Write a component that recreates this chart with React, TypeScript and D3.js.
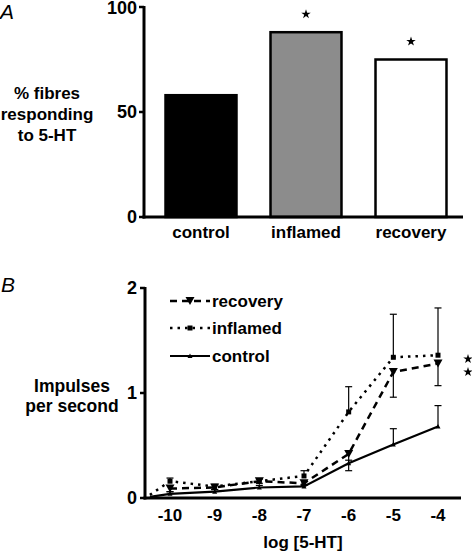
import React from "react";
import * as d3 from "d3";

// Panel A data
const categories = ["control", "inflamed", "recovery"];
const percentResponding = [58, 88, 75];
const barFills = ["#000000", "#8c8c8c", "#ffffff"];
const significantA = [false, true, true];
const yTicksA = [0, 50, 100];

// Panel B data
const logConc = [-10, -9, -8, -7, -6, -5, -4];
const xTicksB = [-10, -9, -8, -7, -6, -5, -4];
const yTicksB = [0, 1, 2];
const controlMean = [0.04, 0.06, 0.1, 0.11, 0.33, 0.51, 0.68];
const controlErr = [0.02, 0.02, 0.02, 0.02, 0.03, 0.15, 0.2];
const inflamedMean = [0.16, 0.11, 0.16, 0.21, 0.82, 1.34, 1.36];
const inflamedErr = [0.03, 0.02, 0.02, 0.05, 0.24, 0.41, 0.45];
const recoveryMean = [0.09, 0.1, 0.16, 0.14, 0.42, 1.2, 1.28];
const recoveryErr = [0.03, 0.02, 0.02, 0.02, 0.16, 0.24, 0.21];
// baseline start of curves near the axis
const startX = -10.45;
const controlStart = 0.01;
const inflamedStart = 0.03;

const FONT = "Arial, 'Liberation Sans', Helvetica, sans-serif";

export default function App() {
  // ---------- Panel A ----------
  const yA = d3.scaleLinear().domain([0, 100]).range([217, 7]);
  const xA = d3
    .scaleBand<string>()
    .domain(categories)
    .range([148.5, 463.5])
    .paddingInner(0.324)
    .paddingOuter(0.162);

  // ---------- Panel B ----------
  const xB = d3.scaleLinear().domain([-10, -4]).range([170, 438]);
  const yB = d3.scaleLinear().domain([0, 2]).range([498, 288]);
  const line = d3
    .line<[number, number]>()
    .x((d) => xB(d[0]))
    .y((d) => yB(d[1]));

  type Series = {
    name: string;
    mean: number[];
    err: number[];
    dir: number;
    dash: string;
    width: number;
    start?: number;
    marker: "down" | "square" | "up";
  };
  const series: Series[] = [
    { name: "control", mean: controlMean, err: controlErr, dir: 1, dash: "", width: 2.2, start: controlStart, marker: "up" },
    { name: "recovery", mean: recoveryMean, err: recoveryErr, dir: -1, dash: "7,5", width: 2.5, marker: "down" },
    { name: "inflamed", mean: inflamedMean, err: inflamedErr, dir: 1, dash: "2.5,5", width: 2.5, start: inflamedStart, marker: "square" },
  ];

  const legendItems = [
    { name: "recovery", y: 301 },
    { name: "inflamed", y: 328 },
    { name: "control", y: 356 },
  ];

  const starPath = d3.symbol(d3.symbolStar, 28)() as string;

  const marker = (m: string, x: number, y: number, key: string) => {
    if (m === "down")
      return <path key={key} d={`M${x - 4.5},${y - 4} L${x + 4.5},${y - 4} L${x},${y + 4} Z`} fill="#000" />;
    if (m === "square") return <rect key={key} x={x - 2.5} y={y - 2.5} width={5} height={5} fill="#000" />;
    return <path key={key} d={`M${x - 2.5},${y + 2} L${x + 2.5},${y + 2} L${x},${y - 2.5} Z`} fill="#000" />;
  };

  return (
    <svg width={472} height={551} style={{ position: "absolute", left: 0, top: 0 }} fontFamily={FONT}>
      <rect width={472} height={551} fill="#fff" />
      {/* Panel A */}
      <text x={0} y={19} fontSize={21} fontStyle="italic">A</text>
      <g fontWeight="bold" fontSize={17} textAnchor="middle">
        <text x={47} y={99}>% fibres</text>
        <text x={47} y={120}>responding</text>
        <text x={47} y={141}>to 5-HT</text>
      </g>
      {categories.map((c, i) => (
        <rect
          key={c}
          x={xA(c)}
          y={yA(percentResponding[i])}
          width={xA.bandwidth()}
          height={yA(0) - yA(percentResponding[i])}
          fill={barFills[i]}
          stroke="#000"
          strokeWidth={2.5}
        />
      ))}
      {categories.map((c, i) =>
        significantA[i] ? (
          <path key={c + "s"} d={starPath} transform={`translate(${(xA(c) as number) + xA.bandwidth() / 2},${yA(percentResponding[i]) - 18})`} fill="#000" />
        ) : null
      )}
      <line x1={144} x2={144} y1={yA(100) - 1} y2={yA(0) + 1.5} stroke="#000" strokeWidth={3} />
      <line x1={142.5} x2={463} y1={yA(0)} y2={yA(0)} stroke="#000" strokeWidth={3} />
      {yTicksA.map((t) => (
        <g key={t}>
          <line x1={139} x2={144} y1={yA(t)} y2={yA(t)} stroke="#000" strokeWidth={2.5} />
          <text x={137} y={Math.max(yA(t) + 6, 14)} fontSize={18} fontWeight="bold" textAnchor="end">{t}</text>
        </g>
      ))}
      {categories.map((c) => (
        <text key={c + "l"} x={(xA(c) as number) + xA.bandwidth() / 2} y={238} fontSize={17} fontWeight="bold" textAnchor="middle">
          {c}
        </text>
      ))}

      {/* Panel B */}
      <text x={1} y={292} fontSize={21} fontStyle="italic">B</text>
      <g fontWeight="bold" fontSize={17.5} textAnchor="middle">
        <text x={72} y={392}>Impulses</text>
        <text x={72} y={412}>per second</text>
      </g>
      {series.map((s) => {
        const pts: [number, number][] = logConc.map((x, i) => [x, s.mean[i]]);
        if (s.start !== undefined) pts.unshift([startX, s.start]);
        return (
          <g key={s.name}>
            <path d={line(pts) as string} fill="none" stroke="#000" strokeWidth={s.width} strokeDasharray={s.dash} />
            {logConc.map((x, i) => {
              const y0 = yB(s.mean[i]);
              const y1 = yB(s.mean[i] + s.dir * s.err[i]);
              return (
                <g key={i}>
                  <line x1={xB(x)} x2={xB(x)} y1={y0} y2={y1} stroke="#000" strokeWidth={1.2} />
                  <line x1={xB(x) - 3.5} x2={xB(x) + 3.5} y1={y1} y2={y1} stroke="#000" strokeWidth={1.2} />
                </g>
              );
            })}
            {logConc.map((x, i) => marker(s.marker, xB(x), yB(s.mean[i]), s.name + i))}
          </g>
        );
      })}
      <path d={starPath} transform="translate(468,359)" fill="#000" />
      <path d={starPath} transform="translate(468,372)" fill="#000" />
      <line x1={145} x2={145} y1={yB(2) - 1} y2={yB(0) + 1.5} stroke="#000" strokeWidth={3} />
      <line x1={143.5} x2={461} y1={yB(0)} y2={yB(0)} stroke="#000" strokeWidth={3} />
      {yTicksB.map((t) => (
        <g key={t}>
          <line x1={140} x2={145} y1={yB(t)} y2={yB(t)} stroke="#000" strokeWidth={2.5} />
          <text x={137} y={yB(t) + 6} fontSize={18} fontWeight="bold" textAnchor="end">{t}</text>
        </g>
      ))}
      {xTicksB.map((t) => (
        <text key={t} x={xB(t)} y={521} fontSize={17} fontWeight="bold" textAnchor="middle">{t}</text>
      ))}
      <text x={303} y={548} fontSize={17} fontWeight="bold" textAnchor="middle">log [5-HT]</text>

      {/* Legend */}
      {legendItems.map((l) => {
        const s = series.find((q) => q.name === l.name) as Series;
        return (
          <g key={l.name}>
            <line x1={170} x2={210} y1={l.y} y2={l.y} stroke="#000" strokeWidth={s.width} strokeDasharray={s.dash} />
            {marker(s.marker, 190, l.y, l.name + "m")}
            <text x={212} y={l.y + 6} fontSize={17} fontWeight="bold">{l.name}</text>
          </g>
        );
      })}
    </svg>
  );
}
